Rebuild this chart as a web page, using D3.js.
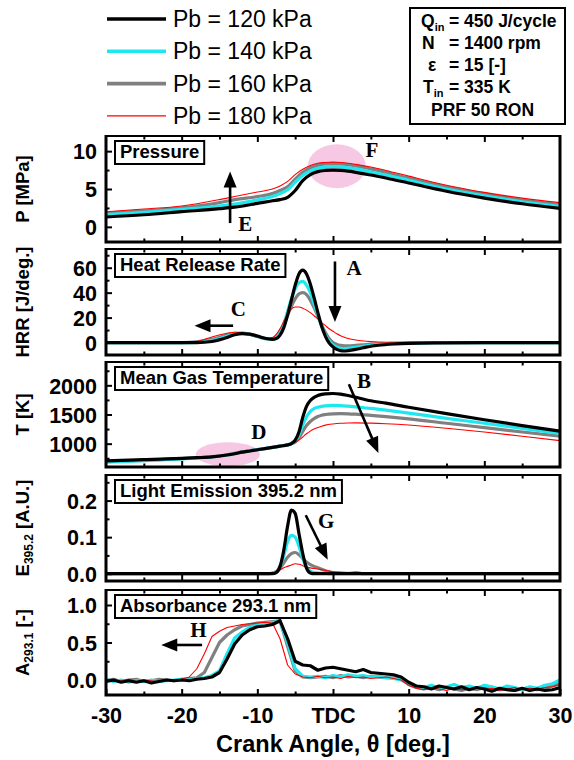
<!DOCTYPE html>
<html><head><meta charset="utf-8">
<script src="https://cdn.jsdelivr.net/npm/d3@7"></script>
<style>body{margin:0;background:#fff}svg{display:block}</style>
</head><body><svg id="c" width="574" height="760"></svg>
<script>
// ---------------- DATA ----------------
const seriesNames = ["Pb = 120 kPa","Pb = 140 kPa","Pb = 160 kPa","Pb = 180 kPa"];
const infoLines = [["Q","in","= 450 J/cycle"],["N","","= 1400 rpm"],["\u03b5","","= 15 [-]"],["T","in","= 335 K"],["PRF 50 RON","",""]];
const xMajorTicks = [-30,-20,-10,0,10,20,30];
const xMinorTicks = [-25,-15,-5,5,15,25];

// Pressure [MPa]
const tP = [-30,-25,-20,-15,-13,-10,-8,-7,-6,-5,-4,-3,-2,-1,0,1,2,3,5,7,10,15,20,25,30];
const p120 = [1.3,1.6,2.0,2.4,2.6,3.1,3.45,3.6,3.9,4.8,6.1,6.9,7.3,7.45,7.5,7.45,7.35,7.2,6.85,6.45,5.8,4.7,3.8,3.05,2.45];
const p140 = [1.6,1.9,2.3,2.75,3.0,3.55,4.0,4.4,4.9,5.9,6.8,7.4,7.75,7.9,7.95,7.9,7.8,7.65,7.25,6.85,6.15,5.0,4.1,3.3,2.7];
const p160 = [1.8,2.1,2.5,3.2,3.6,4.0,4.4,4.8,5.3,6.3,7.2,7.8,8.15,8.3,8.35,8.3,8.2,8.05,7.65,7.2,6.45,5.3,4.35,3.55,2.95];
const p180 = [2.0,2.35,2.75,3.6,4.0,4.6,5.0,5.4,6.0,6.9,7.6,8.1,8.4,8.5,8.55,8.5,8.4,8.25,7.9,7.45,6.7,5.5,4.55,3.8,3.2];
const pTicks = [0,5,10], pMinor = [2.5,7.5];

// Heat release rate [J/deg.]
const tH = [-30,-20,-18,-16,-14,-13,-12,-11,-10,-9,-8,-7.5,-7,-6.5,-6,-5.5,-5,-4.5,-4,-3.5,-3,-2.5,-2,-1.5,-1,-0.5,0,0.5,1,1.5,2,3,4,5,6,8,10,14,20,30];
const h120 = [0,0,0,0.8,4,6.2,7.2,6.8,5.2,3.4,2.6,3.2,6,12,22,34,46,55,58,55,47,36,24,13,5,-0.5,-3.5,-5.5,-6.5,-6.8,-6.5,-5.5,-4.2,-3,-2.2,-1.2,-0.6,-0.2,0,0];
const h140 = [0,0,0.2,1.5,5,6.8,7.4,6.6,5,3.3,2.8,4,8,15,25,35,43,48,49,46,40,31,22,13,6,1,-2,-3.8,-4.6,-4.8,-4.6,-3.8,-3,-2.2,-1.6,-0.9,-0.5,-0.1,0,0];
const h160 = [0,0,0.5,2.5,6,7.3,7.5,6.5,4.8,3.2,3,4.5,9,15,22,29,35,39,40,38.5,34,28,21,14,8,3,0,-1.5,-2.3,-2.7,-2.7,-2.3,-1.8,-1.3,-1,-0.6,-0.3,0,0,0];
const h180 = [0,0,1,4.5,7.5,8.2,7.8,6.4,4.5,3.2,4,6.5,11,17,23,27,28.5,28.5,27.5,26,24,21.5,19,16,13.5,11,9,7,5.5,4.3,3.3,2,1.2,0.7,0.4,0.2,0.1,0,0,0];
const hTicks = [0,20,40,60], hMinor = [10,30,50,70];

// Mean gas temperature [K]
const tT = [-30,-25,-20,-18,-16,-14,-13,-12,-11,-10,-9,-8,-7,-6,-5.5,-5,-4.5,-4,-3.5,-3,-2.5,-2,-1.5,-1,0,1,2,3,5,7,10,15,20,25,30];
const t120 = [705,725,748,760,775,805,828,855,875,895,915,936,958,980,1000,1060,1200,1450,1640,1740,1795,1825,1845,1855,1860,1850,1825,1795,1735,1695,1625,1515,1410,1310,1215];
const t140 = [685,710,740,755,772,805,830,857,877,897,916,937,958,980,1000,1045,1150,1320,1460,1550,1600,1625,1640,1648,1655,1652,1642,1630,1605,1575,1525,1435,1350,1262,1175];
const t160 = [690,714,742,757,776,810,835,860,879,898,917,937,958,980,1000,1030,1100,1210,1310,1380,1430,1465,1488,1500,1512,1515,1512,1505,1485,1462,1425,1350,1275,1200,1130];
const t180 = [695,718,745,762,782,816,840,863,881,899,918,938,960,982,1000,1020,1060,1115,1170,1215,1250,1278,1300,1318,1338,1350,1355,1357,1352,1342,1320,1265,1200,1128,1052];
const tTicks = [1000,1500,2000], tMinor = [750,1250,1750,2250];

// Light emission 395.2 nm [A.U.]
const tE = [-30,-8.5,-8,-7.5,-7,-6.5,-6,-5.5,-5,-4.5,-4,-3.5,-3,-2.5,-2,-1.5,-1,-0.5,0,1,2,3,4,30];
const e120 = [0,0,0,0.003,0.02,0.065,0.13,0.174,0.165,0.11,0.055,0.015,0.002,0,0,0,0,0,0,0,0,0,0,0];
const e140 = [0,0,0.001,0.005,0.02,0.05,0.088,0.105,0.1,0.075,0.042,0.018,0.007,0.003,0.002,0.001,0.001,0,0,0,0,0,0,0];
const e160 = [0,0,0.002,0.006,0.015,0.03,0.045,0.055,0.058,0.052,0.042,0.032,0.025,0.02,0.016,0.012,0.008,0.005,0.003,0.002,0.001,0.003,0,0];
const e180 = [0,0,0.002,0.005,0.01,0.016,0.02,0.024,0.027,0.026,0.022,0.018,0.016,0.014,0.013,0.011,0.009,0.007,0.005,0.003,0.001,0,0,0];
const eTicks = [0,0.1,0.2], eMinor = [0.05,0.15,0.25];

// Absorbance 293.1 nm [-]
const tA = [-30,-29,-28,-27,-26,-25,-24,-23,-22,-21,-20,-19,-18,-17,-16,-15,-14,-13,-12,-11,-10,-9,-8,-7,-6,-5,-4,-3,-2,-1,0,1,2,3,4,5,6,7,8,9,10,11,12,13,14,15,16,17,18,19,20,21,22,23,24,25,26,27,28,29,30];
const a120 = [-0.02,0.0,-0.03,-0.01,-0.03,-0.01,-0.04,-0.02,0.0,-0.01,
  0.0,-0.01,0.01,0.02,0.04,0.1,0.28,0.48,0.6,0.67,
  0.71,0.72,0.74,0.79,0.55,0.25,0.2,0.19,0.13,0.16,
  0.17,0.15,0.13,0.11,0.14,0.1,0.09,0.08,0.07,0.04,
  -0.03,-0.08,-0.09,-0.12,-0.08,-0.1,-0.12,-0.09,-0.13,-0.1,
  -0.12,-0.15,-0.11,-0.13,-0.14,-0.11,-0.14,-0.12,-0.14,-0.13,-0.1];
const a140 = [0.01,-0.02,0.0,-0.03,-0.01,-0.02,0.0,-0.02,-0.01,0.0,
  0.01,0.0,0.02,0.03,0.06,0.12,0.35,0.56,0.64,0.7,
  0.73,0.75,0.77,0.78,0.5,0.15,0.05,0.04,0.05,0.03,
  0.06,0.04,0.07,0.05,0.06,0.04,0.05,0.03,0.02,0.0,
  -0.05,-0.08,-0.1,-0.07,-0.11,-0.09,-0.06,-0.1,-0.08,-0.11,
  -0.07,-0.09,-0.12,-0.08,-0.1,-0.13,-0.09,-0.11,-0.07,-0.05,0.0];
const a160 = [-0.01,0.01,-0.02,0.0,0.01,-0.02,-0.01,0.01,0.0,-0.01,
  0.01,0.02,0.03,0.1,0.3,0.5,0.6,0.67,0.72,0.74,
  0.76,0.77,0.78,0.79,0.45,0.12,0.04,0.03,0.04,0.05,
  0.03,0.06,0.04,0.05,0.03,0.05,0.04,0.03,0.03,0.01,
  -0.06,-0.1,-0.12,-0.1,-0.13,-0.1,-0.12,-0.14,-0.11,-0.13,
  -0.1,-0.12,-0.13,-0.11,-0.14,-0.12,-0.1,-0.13,-0.11,-0.08,-0.05];
const a180 = [0.0,-0.02,-0.01,0.01,-0.02,0.0,-0.01,-0.02,0.01,0.0,
  0.01,0.04,0.15,0.35,0.58,0.65,0.7,0.72,0.74,0.75,
  0.76,0.77,0.76,0.55,0.2,0.08,0.04,0.03,0.05,0.03,
  0.04,0.02,0.05,0.03,0.04,0.02,0.03,0.04,0.02,0.0,
  -0.07,-0.11,-0.13,-0.1,-0.12,-0.14,-0.11,-0.13,-0.12,-0.1,
  -0.13,-0.11,-0.14,-0.12,-0.1,-0.13,-0.11,-0.12,-0.1,-0.09,-0.06];
const aTicks = [0,0.5,1.0], aMinor = [0.25,0.75];

// ---------------- STYLE / LAYOUT ----------------
const colors = ["#000000","#1de8f0","#808080","#ff0000"];
const widths = [3.2,3.2,3.2,1.1];
const drawOrder = [2,1,3,0];
const SANS = "'Liberation Sans', Arial, sans-serif";
const SERIF = "'Liberation Serif', 'Times New Roman', serif";
const X0 = 106, X1 = 560;
const x = d3.scaleLinear().domain([-30,30]).range([X0,X1]);

const panels = [
  {top:136,bottom:242,domain:[-2,12],ticks:pTicks,minor:pMinor,fmt:d3.format("d"),label:"Pressure",
   title:[["P",0],[" [MPa]",0]],theta:tP,data:[p120,p140,p160,p180],curve:d3.curveMonotoneX},
  {top:249,bottom:355,domain:[-10,75],ticks:hTicks,minor:hMinor,fmt:d3.format("d"),label:"Heat Release Rate",
   title:[["HRR [J/deg.]",0]],theta:tH,data:[h120,h140,h160,h180],curve:d3.curveMonotoneX},
  {top:362,bottom:467,domain:[600,2400],ticks:tTicks,minor:tMinor,fmt:d3.format("d"),label:"Mean Gas Temperature",
   title:[["T [K]",0]],theta:tT,data:[t120,t140,t160,t180],curve:d3.curveMonotoneX},
  {top:475,bottom:581,domain:[-0.02,0.27],ticks:eTicks,minor:eMinor,fmt:d3.format(".1f"),label:"Light Emission 395.2 nm",
   title:[["E",0],["395.2",1],[" [A.U.]",0]],theta:tE,data:[e120,e140,e160,e180],curve:d3.curveMonotoneX},
  {top:590,bottom:695,domain:[-0.2,1.2],ticks:aTicks,minor:aMinor,fmt:d3.format(".1f"),label:"Absorbance 293.1 nm",
   title:[["A",0],["293.1",1],[" [-]",0]],theta:tA,data:[a120,a140,a160,a180],curve:d3.curveLinear}
];

const svg = d3.select("#c");
const defs = svg.append("defs");

function arrow(g, x1, y1, x2, y2){
  const dx = x2-x1, dy = y2-y1, L = Math.hypot(dx,dy), ux = dx/L, uy = dy/L;
  const hl = 16, hw = 6.5;
  const bx = x2-ux*hl, by = y2-uy*hl;
  g.append("line").attr("x1",x1).attr("y1",y1).attr("x2",bx+ux*2).attr("y2",by+uy*2)
    .attr("stroke","#000").attr("stroke-width",2.6);
  g.append("path").attr("d",`M${x2},${y2}L${bx-uy*hw},${by+ux*hw}L${bx+uy*hw},${by-ux*hw}Z`).attr("fill","#000");
}
function letter(g, px, py, s){
  g.append("text").attr("x",px).attr("y",py).attr("text-anchor","middle")
    .attr("font-family",SERIF).attr("font-weight","bold").attr("font-size",21).text(s);
}

panels.forEach((p,i)=>{
  const y = d3.scaleLinear().domain(p.domain).range([p.bottom,p.top]);
  p.y = y;
  const g = svg.append("g");
  defs.append("clipPath").attr("id","clip"+i).append("rect")
    .attr("x",X0).attr("y",p.top).attr("width",X1-X0).attr("height",p.bottom-p.top);
  const plot = g.append("g").attr("clip-path",`url(#clip${i})`);
  if(i===0) plot.append("ellipse").attr("cx",x(0.5)).attr("cy",y(8.0)).attr("rx",29).attr("ry",22).attr("fill","#f6bede").attr("opacity",0.85);
  if(i===2) plot.append("ellipse").attr("cx",x(-13.9)).attr("cy",y(818)).attr("rx",32).attr("ry",12).attr("fill","#f6bede").attr("opacity",0.85);
  const line = d3.line().x((d,k)=>x(p.theta[k])).y(d=>y(d)).curve(p.curve);
  drawOrder.forEach(s=>{
    plot.append("path").datum(p.data[s]).attr("d",line).attr("fill","none")
      .attr("stroke",colors[s]).attr("stroke-width",widths[s]).attr("stroke-linejoin","round");
  });
  const axStyle = sel=>{ sel.select(".domain").remove(); sel.selectAll("line").attr("stroke","#000").attr("stroke-width",2);
     sel.selectAll("text").attr("font-family",SANS).attr("font-weight","bold").attr("font-size",21.5).attr("fill","#000"); };
  g.append("g").attr("transform",`translate(${X0},0)`).call(d3.axisLeft(y).tickValues(p.ticks).tickSize(-6).tickPadding(9).tickFormat(p.fmt)).call(axStyle)
    .selectAll("text").attr("dy","0.36em");
  g.append("g").attr("transform",`translate(${X0},0)`).call(d3.axisLeft(y).tickValues(p.minor).tickSize(-3.5).tickFormat("")).call(axStyle);
  const last = i===panels.length-1;
  g.append("g").attr("transform",`translate(0,${p.bottom})`)
    .call(d3.axisBottom(x).tickValues(last?xMajorTicks:xMajorTicks.slice(1,-1)).tickSize(-6).tickPadding(13)
      .tickFormat(last?(d=>d===0?"TDC":String(d)):"")).call(axStyle);
  g.append("g").attr("transform",`translate(0,${p.bottom})`).call(d3.axisBottom(x).tickValues(xMinorTicks).tickSize(-3.5).tickFormat("")).call(axStyle);
  g.append("g").attr("transform",`translate(0,${p.top})`).call(d3.axisTop(x).tickValues(xMajorTicks.slice(1,-1)).tickSize(-6).tickFormat("")).call(axStyle);
  g.append("g").attr("transform",`translate(0,${p.top})`).call(d3.axisTop(x).tickValues(xMinorTicks).tickSize(-3.5).tickFormat("")).call(axStyle);
  g.append("rect").attr("x",X0).attr("y",p.top).attr("width",X1-X0).attr("height",p.bottom-p.top)
    .attr("fill","none").attr("stroke","#000").attr("stroke-width",2);
  g.append("path").attr("d",`M${X0},${p.top-1}V${p.bottom}H${X1}V${p.top-1}`).attr("fill","none").attr("stroke","#000").attr("stroke-width",3);
  const lb = g.append("g");
  const lt = lb.append("text").attr("x",X0+14).attr("y",p.top+22).attr("font-family",SANS).attr("font-weight","bold")
    .attr("font-size",18.5).text(p.label);
  const w = lt.node().getComputedTextLength();
  lb.insert("rect","text").attr("x",X0+9).attr("y",p.top+5).attr("width",w+10).attr("height",23)
    .attr("fill","#fff").attr("stroke","#000").attr("stroke-width",2);
  const cy = (p.top+p.bottom)/2;
  const tt = svg.append("text").attr("transform",`translate(29,${cy}) rotate(-90)`).attr("text-anchor","middle")
    .attr("font-family",SANS).attr("font-weight","bold").attr("font-size",18.5);
  let sub = 0;
  p.title.forEach(([s,isSub])=>{
    const ts = tt.append("tspan").text(s);
    if(isSub){ ts.attr("font-size",12).attr("dy",4); sub=1; }
    else if(sub){ ts.attr("dy",-4); sub=0; }
  });
});

svg.append("text").attr("x",(X0+X1)/2).attr("y",752).attr("text-anchor","middle")
  .attr("font-family",SANS).attr("font-weight","bold").attr("font-size",23.5).text("Crank Angle, \u03b8 [deg.]");

const ann = svg.append("g");
{
  const [P,H,T,E,A] = panels;
  arrow(ann, x(-13.6), P.y(0.5), x(-13.6), P.y(7.3)); letter(ann, x(-11.6), P.y(-0.5), "E");
  letter(ann, x(5.15), P.y(9.2), "F");
  arrow(ann, x(0.26), H.y(65), x(0.26), H.y(16.5)); letter(ann, x(2.8), H.y(54), "A");
  arrow(ann, x(-13.2), H.y(13.5), x(-18.3), H.y(13.5)); letter(ann, x(-12.5), H.y(21), "C");
  arrow(ann, x(2.1), T.y(2020), x(6.0), T.y(840)); letter(ann, x(4.1), T.y(1950), "B");
  letter(ann, x(-9.8), T.y(1080), "D");
  arrow(ann, x(-3.6), E.y(0.16), x(-0.7), E.y(0.038)); letter(ann, x(-0.9), E.y(0.125), "G");
  arrow(ann, x(-17.3), A.y(0.467), x(-22.7), A.y(0.467)); letter(ann, x(-17.8), A.y(0.57), "H");
}

const leg = svg.append("g");
seriesNames.forEach((n,k)=>{
  const ly = 19 + k*32.3;
  leg.append("line").attr("x1",107).attr("x2",166).attr("y1",ly).attr("y2",ly)
    .attr("stroke",colors[k]).attr("stroke-width",k===3?1.1:3.6);
  leg.append("text").attr("x",173).attr("y",ly+8).attr("font-family",SANS).attr("font-size",23).text(n);
});

const ib = svg.append("g");
ib.append("rect").attr("x",410).attr("y",8).attr("width",155).attr("height",116).attr("fill","#fff").attr("stroke","#000").attr("stroke-width",2);
const rowY = [27,49,71,93,116];
const symX = [421,422,428,423,431];
infoLines.forEach(([s,sub,rest],k)=>{
  const t = ib.append("text").attr("x",symX[k]).attr("y",rowY[k]).attr("font-family",SANS).attr("font-weight","bold").attr("font-size",17.5).text(s);
  if(sub) t.append("tspan").attr("font-size",11).attr("dy",4).text(sub);
  if(rest) ib.append("text").attr("x",449).attr("y",rowY[k]).attr("font-family",SANS).attr("font-weight","bold").attr("font-size",17.5).text(rest);
});
</script></body></html>
